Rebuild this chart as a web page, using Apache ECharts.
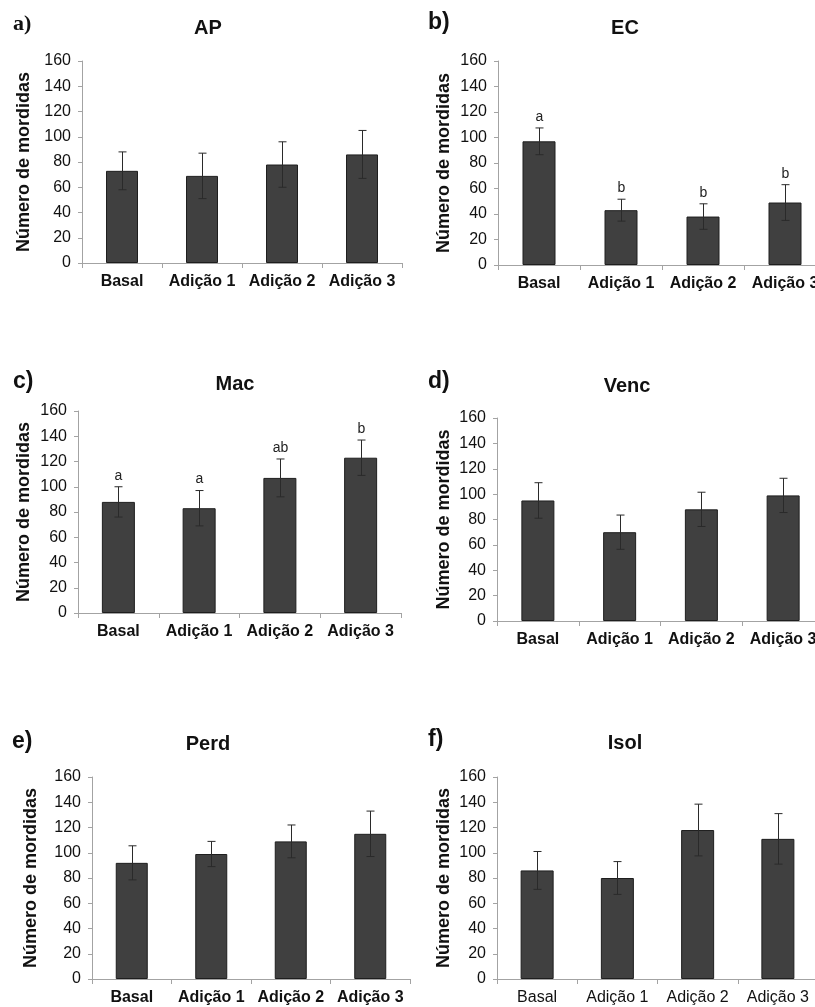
<!DOCTYPE html>
<html>
<head>
<meta charset="utf-8">
<script src="https://cdn.jsdelivr.net/npm/echarts@6/dist/echarts.min.js"></script>
<style>html,body{margin:0;padding:0;background:#fff;overflow:hidden;}#c{width:830px;height:1007px;}</style>
</head>
<body>
<div id="c"></div>
<script>
// ---- data ----
const categories = ['Basal', 'Adição 1', 'Adição 2', 'Adição 3'];
const yTicks = [0, 20, 40, 60, 80, 100, 120, 140, 160];

const apMean = [73, 69, 78, 86];
const apErr  = [15, 18, 18, 19];
const ecMean = [97, 43, 38, 49];
const ecErr  = [10.5, 8.6, 10, 14];
const ecLetters = ['a', 'b', 'b', 'b'];
const macMean = [88, 83, 107, 123];
const macErr  = [12, 14, 15, 14];
const macLetters = ['a', 'a', 'ab', 'b'];
const vencMean = [95, 70, 88, 99];
const vencErr  = [14, 13.5, 13.5, 13.5];
const perdMean = [92, 99, 109, 115];
const perdErr  = [13.5, 10, 13, 18];
const isolMean = [86, 80, 118, 111];
const isolErr  = [15, 13, 20.5, 20];

const panelTitles = ['AP', 'EC', 'Mac', 'Venc', 'Perd', 'Isol'];
const panelTags = ['a)', 'b)', 'c)', 'd)', 'e)', 'f)'];

// ---- layout ----
const panels = [
  {mean: apMean, err: apErr, letters: null, grid: {left: 82, top: 61, width: 320, height: 202}, barW: 32, nameGap: 49, title: [208, 28], tag: [13, 24], tagSerif: true, boldCat: true},
  {mean: ecMean, err: ecErr, letters: ecLetters, grid: {left: 498, top: 61, width: 328, height: 204}, barW: 33, nameGap: 45, title: [625, 28], tag: [428, 23], boldCat: true},
  {mean: macMean, err: macErr, letters: macLetters, grid: {left: 78, top: 411, width: 323, height: 202}, barW: 33, nameGap: 45, title: [235, 384], tag: [13, 382], boldCat: true},
  {mean: vencMean, err: vencErr, letters: null, grid: {left: 497, top: 418, width: 327, height: 203}, barW: 33, nameGap: 44, title: [627, 386], tag: [428, 382], boldCat: true},
  {mean: perdMean, err: perdErr, letters: null, grid: {left: 92, top: 777, width: 318, height: 202}, barW: 32, nameGap: 52, title: [208, 744], tag: [12, 742], boldCat: true},
  {mean: isolMean, err: isolErr, letters: null, grid: {left: 497, top: 777, width: 321, height: 202}, barW: 33, nameGap: 44, title: [625, 743], tag: [428, 740], boldCat: false}
];

const FONT = '"Liberation Sans", Arial, sans-serif';
const axisGray = '#a3a3a3';

const grids = [], xAxes = [], yAxes = [], series = [], graphics = [];

panels.forEach((p, k) => {
  grids.push(Object.assign({containLabel: false}, p.grid));
  xAxes.push({
    type: 'category', gridIndex: k, data: categories, boundaryGap: true,
    axisLine: {lineStyle: {color: axisGray, width: 1}},
    axisTick: {show: true, length: 5, interval: 0, lineStyle: {color: axisGray}},
    axisLabel: {interval: 0, margin: 11, color: '#111', fontSize: 16, fontWeight: p.boldCat ? 'bold' : 'normal', fontFamily: FONT}
  });
  yAxes.push({
    type: 'value', gridIndex: k, min: yTicks[0], max: yTicks[yTicks.length - 1], interval: yTicks[1] - yTicks[0],
    name: 'Número de mordidas', nameLocation: 'middle', nameGap: p.nameGap, nameRotate: 90,
    nameTextStyle: {fontSize: 18, fontWeight: 'bold', color: '#111', fontFamily: FONT},
    axisLine: {show: true, lineStyle: {color: axisGray, width: 1}},
    axisTick: {show: true, length: 4, lineStyle: {color: axisGray}},
    splitLine: {show: false},
    axisLabel: {margin: 11, color: '#111', fontSize: 16, fontFamily: FONT}
  });
  series.push({
    type: 'bar', xAxisIndex: k, yAxisIndex: k, data: p.mean, barWidth: p.barW,
    itemStyle: {color: '#404040', borderColor: '#1e1e1e', borderWidth: 1},
    animation: false, z: 2
  });
  const letters = p.letters;
  series.push({
    type: 'custom', xAxisIndex: k, yAxisIndex: k,
    data: p.mean.map((m, i) => [i, m, p.err[i]]),
    animation: false, z: 3,
    renderItem: function (params, api) {
      const i = api.value(0), m = api.value(1), e = api.value(2);
      const t = api.coord([i, m + e]);
      const b = api.coord([i, m - e]);
      const x = Math.round(t[0]) + 0.5, hw = 4;
      const ls = {stroke: '#2a2a2a', lineWidth: 1};
      const children = [
        {type: 'line', shape: {x1: x, y1: t[1], x2: x, y2: b[1]}, style: ls},
        {type: 'line', shape: {x1: x - hw, y1: t[1], x2: x + hw, y2: t[1]}, style: ls},
        {type: 'line', shape: {x1: x - hw, y1: b[1], x2: x + hw, y2: b[1]}, style: ls}
      ];
      if (letters) {
        children.push({type: 'text', style: {text: letters[params.dataIndex], x: x, y: t[1] - 11,
          align: 'center', verticalAlign: 'middle', textAlign: 'center', textVerticalAlign: 'middle',
          fontSize: 14, fontFamily: FONT, fill: '#222'}});
      }
      return {type: 'group', children: children};
    }
  });
  graphics.push({type: 'text', x: p.title[0], y: p.title[1], style: {
    text: panelTitles[k], fontSize: 20, fontWeight: 'bold', fontFamily: FONT, fill: '#111',
    align: 'center', verticalAlign: 'middle', textAlign: 'center', textVerticalAlign: 'middle'}});
  graphics.push({type: 'text', x: p.tag[0], y: p.tag[1], style: {
    text: panelTags[k], fontSize: p.tagSerif ? 22 : 23, fontWeight: 'bold',
    fontFamily: p.tagSerif ? '"Liberation Serif", "Times New Roman", serif' : FONT, fill: '#111',
    align: 'left', verticalAlign: 'middle', textAlign: 'left', textVerticalAlign: 'middle'}});
});

const chart = echarts.init(document.getElementById('c'), null, {renderer: 'canvas'});
chart.setOption({
  backgroundColor: '#fff',
  animation: false,
  grid: grids, xAxis: xAxes, yAxis: yAxes, series: series,
  graphic: graphics
});
</script>
</body>
</html>
